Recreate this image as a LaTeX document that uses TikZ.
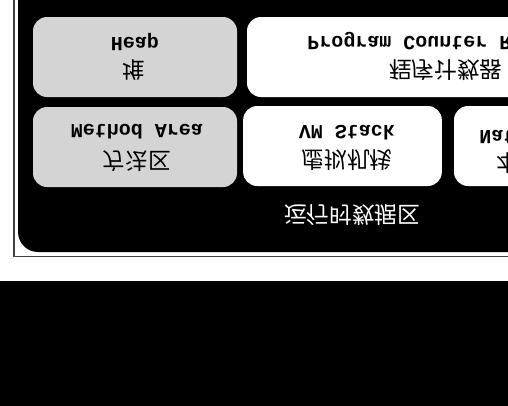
\documentclass[tikz,border=0pt]{standalone}
\usepackage{fontspec}
\setmonofont{Liberation Mono}
\newfontfamily\cjk{Noto Sans CJK SC}
\definecolor{heapgray}{RGB}{212,212,212}

\begin{document}
\begin{tikzpicture}[x=0.75pt, y=-0.75pt,
    box/.style={rounded corners=10.5pt, inner sep=0pt, minimum height=60pt},
    graybox/.style={box, fill=heapgray},
    whitebox/.style={box, fill=white},
    en/.style={font=\ttfamily\bfseries\fontsize{15}{15}\selectfont, inner sep=0pt, yscale=-1},
    zh/.style={font=\cjk\fontsize{17}{17}\selectfont, inner sep=0pt, yscale=-1}]
    \useasboundingbox (0,0) rectangle (508,405);
    \clip (0,0) rectangle (508,405);
    % frame and runtime data area
    \draw[black!75, line width=1.2pt] (14,-5) -- (14,256.5) -- (520,256.5);
    \fill[black, rounded corners=15pt] (18,-20) rectangle (600,252);
    \fill[black] (-5,281) rectangle (520,410);
    % boxes
    \node[graybox, minimum width=153pt] (heap) at (135,57) {};
    \node[whitebox, minimum width=304.5pt] (pc) at (450,57) {};
    \node[graybox, minimum width=153pt] (method) at (135,147) {};
    \node[whitebox, minimum width=149pt] (vmstack) at (342.5,146) {};
    \node[whitebox, minimum width=187.5pt] (native) at (579,146) {};
    % labels
    \node[en] (heapen) at (135,42) {Heap};
    \node[zh] (heapzh) at (134,70) {堆};
    \node[en, anchor=west] (pcen) at (307,42) {Program Counter Register};
    \node[zh, anchor=west] (pczh) at (389,70) {程序计数器};
    \node[en] (methoden) at (137,132) {Method Area};
    \node[zh] (methodzh) at (137,161) {方法区};
    \node[en] (vmen) at (347,133) {VM Stack};
    \node[zh] (vmzh) at (347,160) {虚拟机栈};
    \node[en, anchor=west] (nativeen) at (479,138) {Native Method Stack};
    \node[zh, anchor=west] (nativezh) at (496,163) {本地方法栈};
    \node[zh, text=white] (title) at (352,215) {运行时数据区};
\end{tikzpicture}
\end{document}
